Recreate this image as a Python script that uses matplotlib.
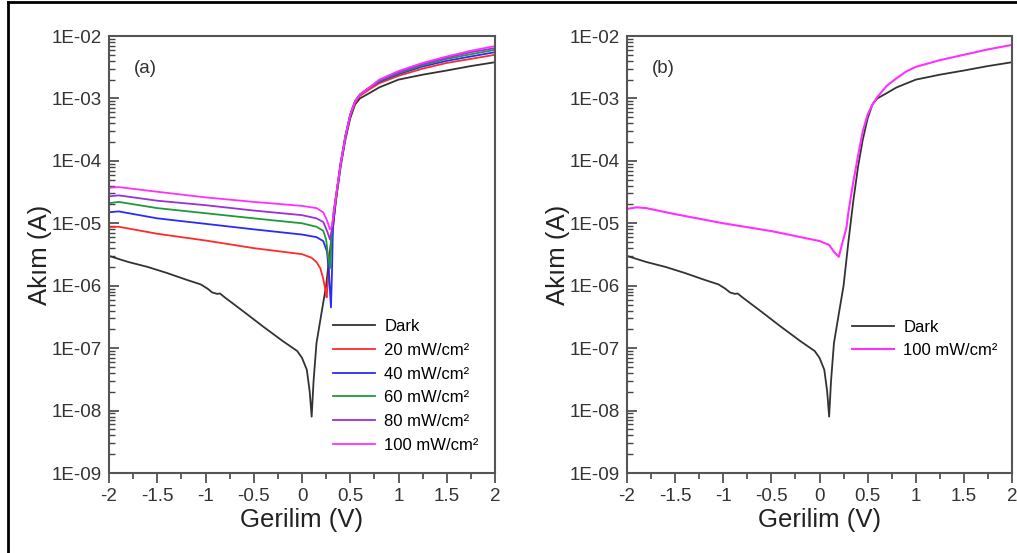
import numpy as np
import matplotlib.pyplot as plt
from matplotlib.lines import Line2D
from matplotlib.ticker import LogLocator, FixedLocator, NullFormatter, MultipleLocator

plt.rcParams['font.family'] = ['Liberation Sans', 'DejaVu Sans']

# ---- data ----
v_dark = [-2.0, -1.8, -1.6, -1.4, -1.2, -1.05, -0.98, -0.93, -0.88, -0.85, -0.8, -0.6, -0.4,
          -0.2, -0.05, 0.0, 0.05, 0.08, 0.1, 0.12, 0.15, 0.2, 0.25, 0.3, 0.35, 0.4, 0.45,
          0.5, 0.55, 0.6, 0.7, 0.8, 1.0, 1.25, 1.5, 1.75, 2.0]
i_dark = [3.0e-6, 2.4e-6, 2.0e-6, 1.6e-6, 1.25e-6, 1.05e-6, 9.0e-7, 7.8e-7, 7.4e-7, 7.5e-7,
          6.5e-7, 3.8e-7, 2.2e-7, 1.3e-7, 9e-8, 7e-8, 4.5e-8, 2e-8, 8e-9, 3e-8, 1.2e-7,
          3.5e-7, 1.0e-6, 5e-6, 2.2e-5, 8e-5, 2.2e-4, 4.8e-4, 8e-4, 1.0e-3, 1.22e-3,
          1.5e-3, 2.0e-3, 2.4e-3, 2.8e-3, 3.3e-3, 3.8e-3]

v_20 = [-2.0, -1.9, -1.5, -1.0, -0.5, 0.0, 0.1, 0.15, 0.19, 0.22, 0.245, 0.255, 0.27, 0.3,
        0.33, 0.36, 0.4, 0.45, 0.5, 0.55, 0.6, 0.7, 0.8, 1.0, 1.25, 1.5, 1.75, 2.0]
i_20 = [8.7e-6, 8.8e-6, 6.8e-6, 5.3e-6, 4.0e-6, 3.2e-6, 2.8e-6, 2.4e-6, 1.9e-6, 1.3e-6,
        8e-7, 6.5e-7, 1.2e-6, 4e-6, 1.2e-5, 3e-5, 8.5e-5, 2.4e-4, 5.2e-4, 8.5e-4, 1.1e-3,
        1.4e-3, 1.75e-3, 2.3e-3, 3.0e-3, 3.7e-3, 4.3e-3, 5.0e-3]

v_40 = [-2.0, -1.9, -1.5, -1.0, -0.5, 0.0, 0.15, 0.22, 0.26, 0.28, 0.3, 0.31, 0.32, 0.35,
        0.4, 0.45, 0.5, 0.55, 0.6, 0.7, 0.8, 1.0, 1.25, 1.5, 1.75, 2.0]
i_40 = [1.5e-5, 1.55e-5, 1.2e-5, 9.8e-6, 8.0e-6, 6.6e-6, 6.0e-6, 5.2e-6, 3.5e-6, 1.5e-6,
        4.5e-7, 1.5e-6, 8e-6, 2.5e-5, 9e-5, 2.5e-4, 5.5e-4, 9e-4, 1.15e-3, 1.5e-3, 1.85e-3,
        2.45e-3, 3.25e-3, 4.0e-3, 4.7e-3, 5.5e-3]

v_60 = [-2.0, -1.9, -1.5, -1.0, -0.5, 0.0, 0.15, 0.22, 0.25, 0.27, 0.29, 0.31, 0.33, 0.35,
        0.4, 0.45, 0.5, 0.55, 0.6, 0.7, 0.8, 1.0, 1.25, 1.5, 1.75, 2.0]
i_60 = [2.1e-5, 2.2e-5, 1.75e-5, 1.45e-5, 1.2e-5, 1.0e-5, 8.8e-6, 7.6e-6, 5.5e-6, 3e-6,
        1.9e-6, 8e-6, 1.6e-5, 2.5e-5, 9e-5, 2.5e-4, 5.5e-4, 9e-4, 1.15e-3, 1.5e-3, 1.9e-3,
        2.55e-3, 3.4e-3, 4.3e-3, 5.1e-3, 6.0e-3]

v_80 = [-2.0, -1.9, -1.5, -1.0, -0.5, 0.0, 0.15, 0.22, 0.26, 0.29, 0.31, 0.33, 0.35, 0.4,
        0.45, 0.5, 0.55, 0.6, 0.7, 0.8, 1.0, 1.25, 1.5, 1.75, 2.0]
i_80 = [2.7e-5, 2.8e-5, 2.3e-5, 1.95e-5, 1.6e-5, 1.35e-5, 1.2e-5, 1.05e-5, 7.5e-6, 5.5e-6,
        8e-6, 1.6e-5, 2.6e-5, 9e-5, 2.5e-4, 5.5e-4, 9e-4, 1.15e-3, 1.5e-3, 1.95e-3, 2.65e-3,
        3.55e-3, 4.5e-3, 5.5e-3, 6.4e-3]

v_100 = [-2.0, -1.9, -1.5, -1.0, -0.5, 0.0, 0.15, 0.22, 0.26, 0.29, 0.31, 0.33, 0.35, 0.4,
         0.45, 0.5, 0.55, 0.6, 0.7, 0.8, 1.0, 1.25, 1.5, 1.75, 2.0]
i_100 = [3.7e-5, 3.8e-5, 3.2e-5, 2.6e-5, 2.2e-5, 1.9e-5, 1.75e-5, 1.5e-5, 1.1e-5, 8e-6,
         9e-6, 1.5e-5, 2.6e-5, 9e-5, 2.5e-4, 5.5e-4, 9e-4, 1.15e-3, 1.5e-3, 2.0e-3, 2.75e-3,
         3.7e-3, 4.7e-3, 5.8e-3, 6.9e-3]

# panel (b) illuminated curve
v_100b = [-2.0, -1.9, -1.8, -1.5, -1.0, -0.5, 0.0, 0.1, 0.15, 0.2, 0.24, 0.28, 0.3, 0.35,
          0.4, 0.45, 0.5, 0.55, 0.6, 0.7, 0.8, 0.9, 1.0, 1.25, 1.5, 1.75, 2.0]
i_100b = [1.7e-5, 1.8e-5, 1.75e-5, 1.4e-5, 1.0e-5, 7.5e-6, 5.2e-6, 4.5e-6, 3.5e-6, 2.9e-6,
          5e-6, 8.5e-6, 1.5e-5, 4.5e-5, 1.2e-4, 3e-4, 5.5e-4, 8e-4, 1.05e-3, 1.6e-3, 2.1e-3,
          2.7e-3, 3.2e-3, 4.1e-3, 5.0e-3, 6.1e-3, 7.2e-3]

labels = ['Dark', '20 mW/cm²', '40 mW/cm²', '60 mW/cm²', '80 mW/cm²', '100 mW/cm²']
colors = ['#333333', '#ff2a2a', '#2a2aff', '#1f9a3a', '#9b30d9', '#ff30ff']

W, H = 1017, 553
fig = plt.figure(figsize=(W / 100, H / 100), dpi=100)

ax1 = fig.add_axes([109 / W, 1 - 473 / H, (495 - 109) / W, (473 - 36) / H])
ax2 = fig.add_axes([627 / W, 1 - 473 / H, (1012 - 627) / W, (473 - 36) / H])

ax1.semilogy(v_dark, i_dark, color=colors[0], lw=1.3, label=labels[0])
for v, i, lab, c in zip([v_20, v_40, v_60, v_80, v_100],
                        [i_20, i_40, i_60, i_80, i_100], labels[1:], colors[1:]):
    ax1.semilogy(v, i, color=c, lw=1.3, label=lab)

ax2.semilogy(v_dark, i_dark, color=colors[0], lw=1.3, label=labels[0])
ax2.semilogy(v_100b, i_100b, color=colors[5], lw=1.5, label=labels[5])

tick_labels = ['1E-09', '1E-08', '1E-07', '1E-06', '1E-05', '1E-04', '1E-03', '1E-02']
for ax, tag in [(ax1, '(a)'), (ax2, '(b)')]:
    ax.set_xlim(-2, 2)
    ax.set_ylim(1e-9, 1e-2)
    ax.set_xticks([-2, -1.5, -1, -0.5, 0, 0.5, 1, 1.5, 2])
    ax.set_xticklabels(['-2', '-1.5', '-1', '-0.5', '0', '0.5', '1', '1.5', '2'])
    ax.xaxis.set_minor_locator(MultipleLocator(0.25))
    ax.yaxis.set_major_locator(FixedLocator([10.0 ** k for k in range(-9, -1)]))
    ax.set_yticklabels(tick_labels)
    ax.yaxis.set_minor_locator(LogLocator(base=10, subs=np.arange(2, 10), numticks=20))
    ax.yaxis.set_minor_formatter(NullFormatter())
    ax.tick_params(axis='x', which='major', direction='out', length=7, width=1.2,
                   colors='#444444', labelcolor='#333333', labelsize=13.5, pad=4)
    ax.tick_params(axis='x', which='minor', direction='out', length=4, width=1.2,
                   colors='#444444')
    ax.tick_params(axis='y', which='major', direction='in', length=7, width=1.2,
                   colors='#444444', labelcolor='#333333', labelsize=13.5, pad=5)
    ax.tick_params(axis='y', which='minor', direction='in', length=4, width=1.0,
                   colors='#444444')
    for s in ax.spines.values():
        s.set_color('#555555')
        s.set_linewidth(1.5)
    ax.set_xlabel('Gerilim (V)', fontsize=18.5, color='#222222', labelpad=2)
    ax.set_ylabel('Akım (A)', fontsize=18.5, color='#222222', labelpad=0)
    ax.text(0.065, 0.925, tag, transform=ax.transAxes, fontsize=13.5, color='#333333',
            va='center', ha='left')

leg1 = ax1.legend(loc='upper left', bbox_to_anchor=(0.56, 0.371), frameon=True,
                  fontsize=12, handlelength=2.5, handletextpad=0.55, labelspacing=0.52,
                  borderpad=0.5, fancybox=False, borderaxespad=0)
leg1.get_frame().set_edgecolor('none')
leg2 = ax2.legend(loc='upper left', bbox_to_anchor=(0.564, 0.37), frameon=True,
                  fontsize=12, handlelength=2.5, handletextpad=0.55, labelspacing=0.52,
                  borderpad=0.5, fancybox=False, borderaxespad=0)
leg2.get_frame().set_edgecolor('none')

# outer frame lines (page border in the reference)
fig.add_artist(Line2D([8 / W, 8 / W], [0, 1 - 1.5 / H], transform=fig.transFigure,
                      color='black', lw=2))
fig.add_artist(Line2D([8 / W, 1], [1 - 1.5 / H, 1 - 1.5 / H], transform=fig.transFigure,
                      color='black', lw=2))

fig.savefig('out.png', dpi=100)
